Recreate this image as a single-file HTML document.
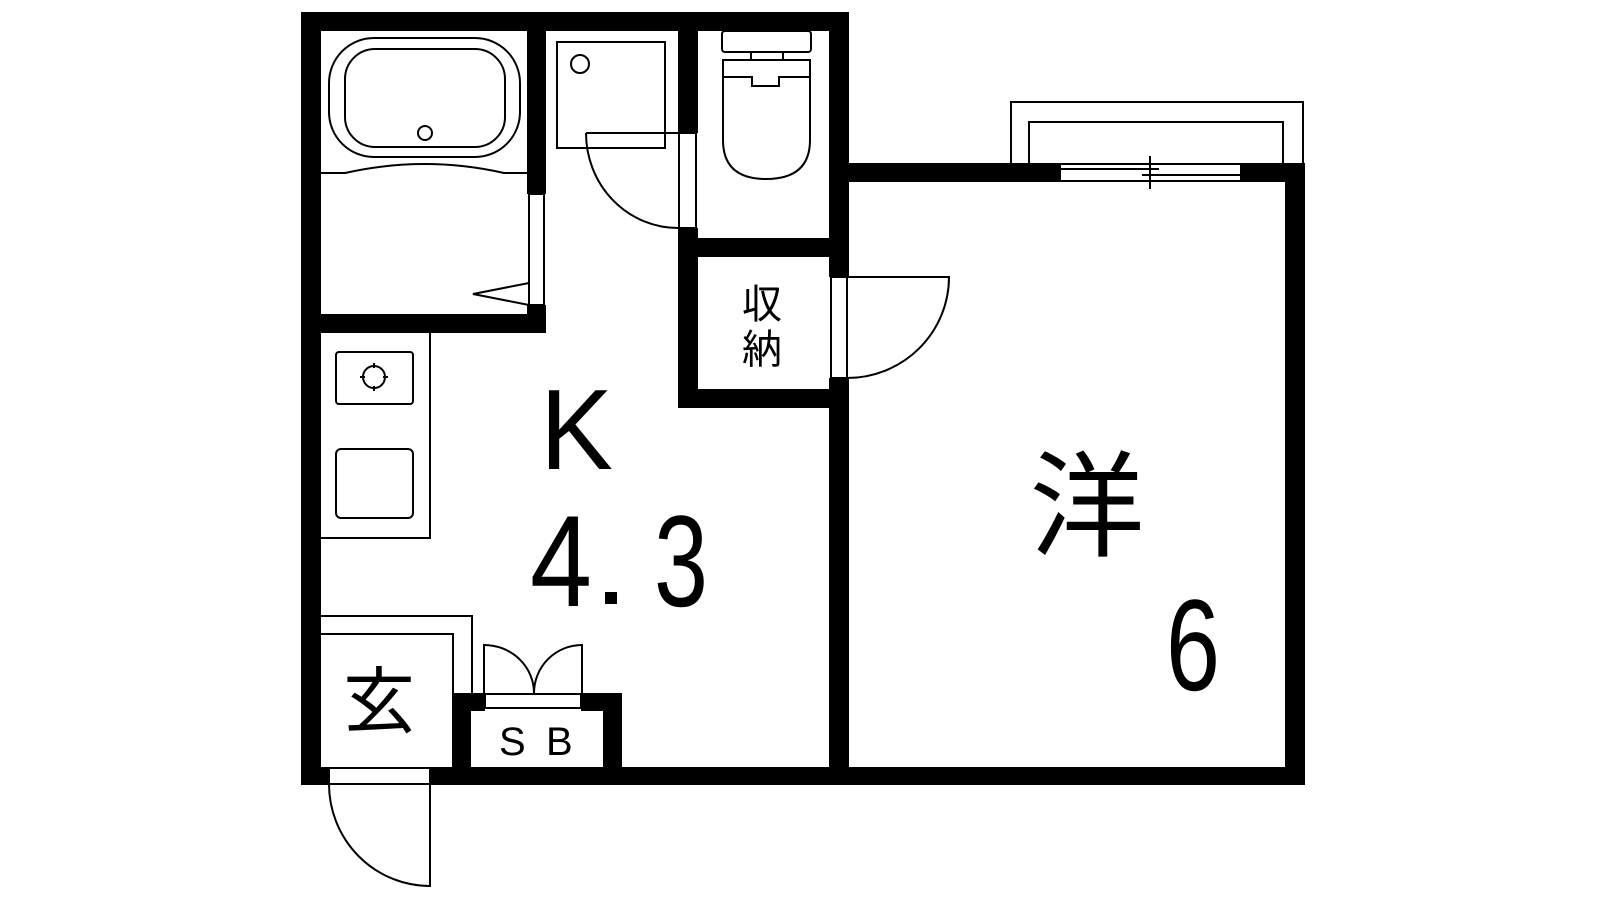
<!DOCTYPE html>
<html><head><meta charset="utf-8"><style>html,body{margin:0;padding:0;background:#fff}svg{display:block}</style></head>
<body>
<svg width="1600" height="900" viewBox="0 0 1600 900" xmlns="http://www.w3.org/2000/svg">
<rect width="1600" height="900" fill="#fff"/>
<g fill="#000">
<rect x="301" y="12" width="20" height="773"/>
<rect x="301" y="12" width="548" height="19"/>
<rect x="829" y="12" width="20" height="265"/>
<rect x="829" y="378" width="20" height="407"/>
<rect x="301" y="767" width="28" height="18"/>
<rect x="430" y="767" width="875" height="18"/>
<rect x="527" y="12" width="19" height="182"/>
<rect x="527" y="305" width="19" height="28"/>
<rect x="301" y="314" width="245" height="19"/>
<rect x="678" y="12" width="20" height="121"/>
<rect x="678" y="228" width="20" height="180"/>
<rect x="678" y="238" width="171" height="19"/>
<rect x="678" y="389" width="171" height="19"/>
<rect x="849" y="163" width="212" height="19"/>
<rect x="1240" y="163" width="65" height="19"/>
<rect x="1285" y="163" width="20" height="622"/>
<rect x="452" y="693" width="19" height="74"/>
<rect x="452" y="693" width="33" height="18"/>
<rect x="581" y="693" width="41" height="18"/>
<rect x="603" y="693" width="19" height="74"/>
</g>
<g fill="none" stroke="#000" stroke-width="2">
<rect x="329" y="38" width="191" height="119" rx="45"/>
<rect x="345" y="49" width="160" height="98" rx="30"/>
<circle cx="425" cy="133" r="7"/>
<path d="M321 173 L345 173 Q425 155 504 173 L527 173"/>
<rect x="529" y="194" width="15" height="111"/>
<path d="M529 283 L473 294 L529 305"/>
<rect x="557" y="42" width="108" height="106"/>
<circle cx="580" cy="64" r="9"/>
<path d="M586 133 L678 133"/>
<path d="M586 133 A92 95 0 0 0 678 228"/>
<rect x="679" y="133" width="17" height="95"/>
<rect x="722" y="31" width="89" height="21" rx="3"/>
<rect x="751" y="52" width="32" height="8"/>
<path d="M723 60 L810 60 L810 140 Q810 179 766 179 Q723 179 723 140 Z"/>
<path d="M723 77 L752 77 L752 86 L779 86 L779 77 L810 77"/>
<rect x="831" y="277" width="16" height="101"/>
<path d="M847 277 L949 277 A102 101 0 0 1 847 378"/>
<path d="M1011 163 L1011 102 L1303 102 L1303 163"/>
<path d="M1029 163 L1029 122 L1283 122 L1283 163"/>
<path d="M1061 164 L1240 164 M1061 181 L1240 181 M1061 169 L1159 169 M1142 175 L1240 175 M1150 156 L1150 189"/>
<path d="M321 538 L430 538 L430 333"/>
<rect x="336" y="352" width="77" height="52" rx="3"/>
<circle cx="374" cy="377" r="11"/>
<path d="M374 363 L374 368 M374 386 L374 391 M360 377 L365 377 M383 377 L388 377"/>
<rect x="336" y="449" width="77" height="69" rx="5"/>
<path d="M321 616 L472 616 L472 693"/>
<path d="M321 634 L453 634 L453 693"/>
<rect x="485" y="694" width="96" height="14"/>
<path d="M484 693 L484 645 A50 48 0 0 1 534 693 A48 48 0 0 1 582 645 L582 693"/>
<rect x="329" y="768" width="101" height="16"/>
<path d="M430 784 L430 886 A101 102 0 0 1 329 784"/>
</g>
<g font-family="Liberation Sans, 'Noto Sans CJK JP', sans-serif" fill="#000">
<text x="540" y="469" font-size="114" textLength="73" lengthAdjust="spacingAndGlyphs">K</text>
<text x="530" y="606" font-size="130" textLength="62" lengthAdjust="spacingAndGlyphs">4</text>
<rect x="605" y="592" width="12" height="12"/>
<text x="654" y="606" font-size="130" textLength="54" lengthAdjust="spacingAndGlyphs">3</text>
<text x="1166" y="690" font-size="130" textLength="54" lengthAdjust="spacingAndGlyphs">6</text>
<text x="1087" y="547" font-size="115" text-anchor="middle" font-family="'Noto Sans CJK JP', sans-serif">洋</text>
<text x="379" y="727" font-size="72" text-anchor="middle" font-family="'Noto Sans CJK JP', sans-serif">玄</text>
<text x="762" y="318" font-size="40" text-anchor="middle" font-family="'Noto Sans CJK JP', sans-serif">収</text>
<text x="762" y="363" font-size="40" text-anchor="middle" font-family="'Noto Sans CJK JP', sans-serif">納</text>
<text x="499" y="755" font-size="40">S</text>
<text x="546" y="755" font-size="40">B</text>
</g>
</svg>
</body></html>
